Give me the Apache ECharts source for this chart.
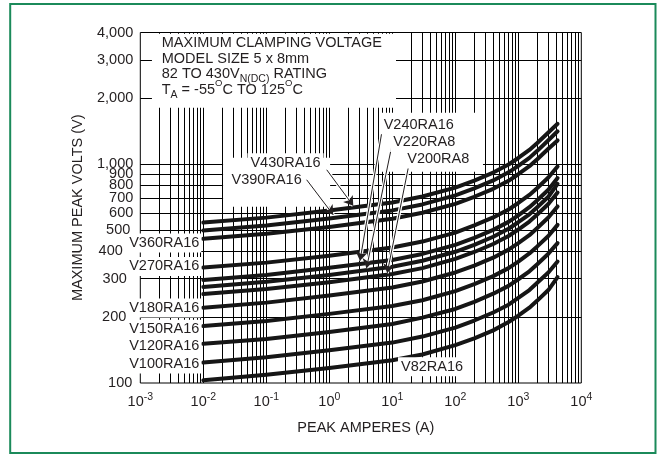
<!DOCTYPE html>
<html><head><meta charset="utf-8">
<script src="https://cdn.jsdelivr.net/npm/echarts@6/dist/echarts.min.js"></script>
<style>html,body{margin:0;padding:0;background:#fff}#c{width:662px;height:455px}</style>
</head><body><div id="c"></div>
<script>
// ---------------- data ----------------
const currents = [0.01, 0.1, 1, 10, 30, 100, 200, 400, 700, 1000, 1500, 2000, 3000, 4200]; // peak amperes
const v430 = [541, 570, 614, 668, 712, 782, 842, 916, 997, 1068, 1162, 1250, 1397, 1531];
const v390 = [498, 525, 565, 615, 655, 720, 775, 843, 918, 983, 1069, 1151, 1286, 1414];
const v360 = [456, 481, 517, 563, 600, 659, 710, 772, 840, 900, 979, 1054, 1177, 1285];
const v270 = [337, 355, 382, 416, 443, 487, 525, 571, 621, 665, 724, 779, 870, 977];
const v240 = [296, 312, 336, 365, 389, 428, 461, 501, 545, 584, 636, 684, 764, 864];
const v220 = [275, 290, 312, 340, 362, 398, 428, 466, 507, 543, 590, 636, 710, 814];
const v200 = [255, 269, 289, 315, 335, 369, 397, 432, 470, 503, 547, 589, 658, 742];
const v180 = [221, 233, 251, 273, 291, 320, 344, 374, 407, 436, 474, 511, 571, 641];
const v150 = [182, 192, 207, 225, 239, 263, 283, 308, 335, 359, 391, 421, 470, 528];
const v120 = [151, 159, 171, 186, 199, 218, 235, 256, 278, 298, 324, 349, 390, 436];
const v100 = [124, 131, 141, 153, 163, 179, 193, 210, 228, 245, 266, 287, 320, 359];
const v82  = [103, 109, 117, 127, 135, 149, 160, 174, 190, 203, 221, 238, 266, 305];
const curveNames = ['V430RA16','V390RA16','V360RA16','V270RA16','V240RA16','V220RA8','V200RA8','V180RA16','V150RA16','V120RA16','V100RA16','V82RA16'];
const curveValues = [v430, v390, v360, v270, v240, v220, v200, v180, v150, v120, v100, v82];

const yTickValues = [100, 200, 300, 400, 500, 600, 700, 800, 900, 1000, 2000, 3000, 4000];
const yTickLabels = ['100','200','300','400','500','600','700','800','900','1,000','2,000','3,000','4,000'];
const yGridValues = [200, 300, 400, 500, 600, 700, 800, 900, 1000, 2000, 3000];
const xDecades = [-3, -2, -1, 0, 1, 2, 3];
const xMultipliers = [1, 2, 3, 4, 5, 6, 7, 8, 9];

// labels to the left of the curve starts (name, volts)
const leftLabels = [['V360RA16', 436], ['V270RA16', 341], ['V180RA16', 220], ['V150RA16', 176], ['V120RA16', 147], ['V100RA16', 122]];
// free labels (name, amperes, volts)
const freeLabels = [['V430RA16', 0.2018, 1016], ['V390RA16', 0.1012, 849], ['V240RA16', 26.3, 1516], ['V220RA8', 32.1, 1258], ['V200RA8', 53.7, 1056], ['V82RA16', 42.7, 118.8]];
// arrows: [from, to] in (amperes, volts)
const arrows = [[[0.91, 943], [2.4, 646]], [[0.437, 849], [1.156, 587]], [[6.79, 1390], [3.07, 362]], [[9.78, 1206], [3.9, 335]], [[17.9, 961], [8.3, 318]]];
// white label panels in (amperes, volts)
const panels = [[[0.00153, 3950], [11.45, 1814]], [[0.0206, 1071], [1.03, 639]], [[6.15, 1721], [275, 924]]];
// title block lines (text, amperes, volts)
const titleLines = [
  ['MAXIMUM CLAMPING VOLTAGE', 0.002188, 3587],
  ['MODEL SIZE 5 x 8mm', 0.002188, 3030],
  ['82 TO 430V{sub|N(DC)} RATING', 0.002188, 2596],
  ['T{sub|A} = -55{sup|O}C TO 125{sup|O}C', 0.002188, 2193]
];

// ---------------- chart ----------------
const FONT = '"Liberation Sans", Arial, Helvetica, sans-serif';
const INK = '#231f20';
const FS = 14.5;
// y tick label gap from the frame (some are pushed left, clear of the curve labels)
const yTickGap = {100: 8, 200: 14, 300: 13.5, 400: 17.5, 500: 10};
const chart = echarts.init(document.getElementById('c'));

const gridPairs = [];
xDecades.forEach(d => xMultipliers.forEach(m => {
  const x = m * Math.pow(10, d);
  if (x > 0.001) gridPairs.push([{coord: [x, 100]}, {coord: [x, 4000]}]);
}));
yGridValues.forEach(y => gridPairs.push([{coord: [0.001, y]}, {coord: [10000, y]}]));

const txt = {fontFamily: FONT, fontSize: FS, color: INK};
const dummy = {type: 'line', data: [[0.001, 100]], symbol: 'none', lineStyle: {opacity: 0}, silent: true};

const series = [];
series.push(Object.assign({}, dummy, {
  name: 'grid', z: 1,
  markLine: {silent: true, z: 1, animation: false, symbol: ['none', 'none'], label: {show: false},
    lineStyle: {color: '#000', width: 1, type: 'solid'}, emphasis: {disabled: true}, data: gridPairs}
}));
series.push(Object.assign({}, dummy, {
  name: 'panels', z: 2,
  markArea: {silent: true, z: 2, animation: false, itemStyle: {color: '#fff', opacity: 1, borderWidth: 0}, label: {show: false},
    emphasis: {disabled: true},
    data: panels.map(p => [{coord: p[0]}, {coord: p[1]}])}
}));
curveNames.forEach((n, k) => {
  series.push({
    name: n, type: 'line', z: 3, symbol: 'none', smooth: false,
    lineStyle: {color: '#161616', width: 4, cap: 'round', join: 'round'},
    data: currents.map((c, i) => [c, curveValues[k][i]])
  });
});
// white halo under the arrows
series.push(Object.assign({}, dummy, {
  name: 'halo', z: 3,
  markLine: {silent: true, z: 3.5, animation: false, symbol: ['none', 'none'], label: {show: false},
    lineStyle: {color: '#fff', width: 3.5, type: 'solid', opacity: 1}, emphasis: {disabled: true},
    data: arrows.map(a => [{coord: a[0]}, {coord: a[1]}])}
}));
const mp = [];
leftLabels.forEach(l => mp.push({name: l[0], coord: [0.0093, l[1]], symbol: 'circle', symbolSize: 0,
  label: Object.assign({show: true, position: 'left', distance: 0, formatter: l[0], backgroundColor: '#fff', padding: [2, 2, 2, 1], lineHeight: 15}, txt)}));
freeLabels.forEach(l => mp.push({name: l[0], coord: [l[1], l[2]], symbol: 'circle', symbolSize: 0,
  label: Object.assign({show: true, position: 'inside', formatter: l[0], backgroundColor: '#fff', padding: [2, 3, 2, 3], lineHeight: 15}, txt)}));
titleLines.forEach((t, i) => mp.push({name: 't' + i, coord: [t[1], t[2]], symbol: 'circle', symbolSize: 0,
  label: Object.assign({show: true, position: 'right', distance: 0, formatter: t[0], lineHeight: 22,
    rich: {
      sub: {fontFamily: FONT, fontSize: 10.5, color: INK, lineHeight: 13, verticalAlign: 'bottom'},
      sup: {fontFamily: FONT, fontSize: 9.5, color: INK, lineHeight: 13, verticalAlign: 'top'}
    }}, txt)}));

series.push(Object.assign({}, dummy, {
  name: 'notes', z: 4,
  markLine: {silent: true, z: 4, animation: false, symbol: ['none', 'arrow'], symbolSize: 9, label: {show: false},
    lineStyle: {color: INK, width: 1, type: 'solid'}, emphasis: {disabled: true},
    data: arrows.map(a => [{coord: a[0]}, {coord: a[1]}])},
  markPoint: {silent: true, z: 5, animation: false, data: mp}
}));
series.push(Object.assign({}, dummy, {
  name: 'yticks', z: 6,
  markPoint: {silent: true, z: 6, animation: false,
    data: yTickValues.map((v, i) => ({name: 'y' + i, coord: [0.001, v], symbol: 'circle', symbolSize: 0,
      label: Object.assign({show: true, position: 'left', distance: yTickGap[v] || 7, formatter: yTickLabels[i]}, txt)}))}
}));

const option = {
  animation: false,
  backgroundColor: '#fff',
  grid: {left: 140.3, right: 80.7, top: 32.5, bottom: 72, show: true, borderColor: '#000', borderWidth: 1, backgroundColor: 'transparent'},
  xAxis: {
    type: 'log', logBase: 10, min: 0.001, max: 10000,
    name: 'PEAK AMPERES (A)', nameLocation: 'middle', nameGap: 37,
    nameTextStyle: Object.assign({padding: [0, 0, 0, 10]}, txt),
    axisLine: {show: false}, axisTick: {show: false}, splitLine: {show: false},
    axisLabel: {
      margin: 9,
      formatter: v => '{b|10}{s|' + Math.round(Math.log10(v)) + '}',
      rich: {
        b: {fontFamily: FONT, fontSize: FS, color: INK, lineHeight: 20, verticalAlign: 'middle'},
        s: {fontFamily: FONT, fontSize: 10.5, color: INK, lineHeight: 12, verticalAlign: 'top'}
      }
    }
  },
  yAxis: {
    type: 'log', logBase: 10, min: 100, max: 4000,
    name: 'MAXIMUM PEAK VOLTS (V)', nameLocation: 'middle', nameRotate: 90, nameGap: 55,
    nameTextStyle: txt,
    axisLine: {show: false}, axisTick: {show: false}, splitLine: {show: false}, axisLabel: {show: false}
  },
  graphic: [{type: 'rect', z: 100, silent: true, shape: {x: 10.2, y: 4, width: 645.3, height: 449},
    style: {fill: 'none', stroke: '#1b8a5a', lineWidth: 2}}],
  series: series
};
chart.setOption(option);
</script>
</body></html>
